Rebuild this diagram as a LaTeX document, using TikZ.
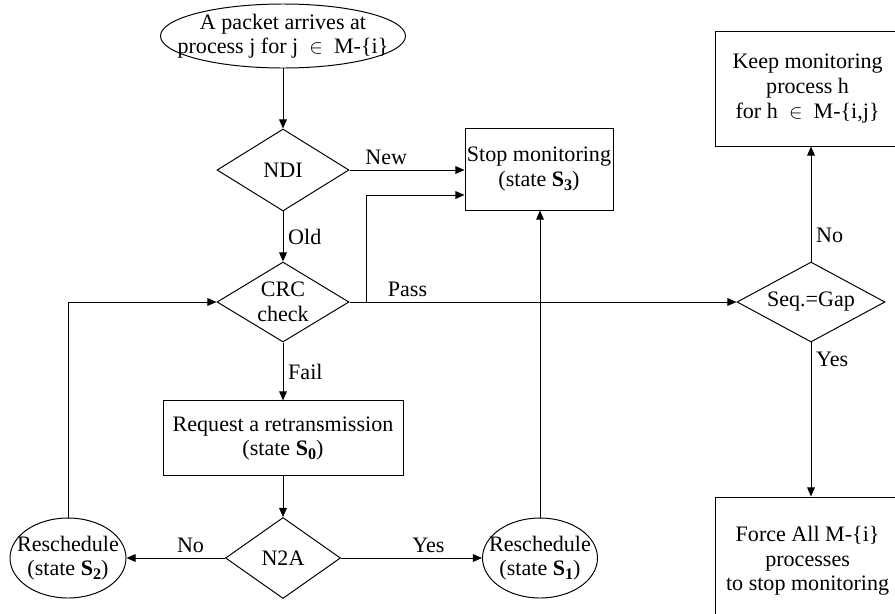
\documentclass[tikz,border=0pt]{standalone}
\usepackage{fontspec}
\setmainfont{Liberation Serif}
\usetikzlibrary{shapes.geometric}
\usetikzlibrary{positioning}
\usetikzlibrary{arrows.meta}
\newcommand{\stS}[1]{\textbf{S}\raisebox{-0.4ex}{\fontsize{11.5}{11.5}\selectfont\textbf{#1}}}

\begin{document}
\begin{tikzpicture}[
    font=\fontsize{15.7}{17.5}\selectfont,
    line width=0.7pt,
    box/.style={draw, rectangle, align=center, inner sep=0pt},
    decision/.style={draw, diamond, align=center, inner sep=0pt, shape aspect=1.6},
    oval/.style={draw, ellipse, align=center, inner xsep=-20pt, inner ysep=-5pt},
    flow/.style={-{Triangle[length=6.5pt,width=5.5pt]}}
]
            \path[use as bounding box] (0,0) rectangle (22.375,-15.325);
            \clip (0,0) rectangle (22.375,-15.325);

            \node[oval, minimum width=6.125cm, minimum height=1.6cm] (arrive) at (7.075,-0.9) {A packet arrives at\\process j for j $\;\in\;$ M-\{i\}};
            \node[decision, minimum width=3.3cm, minimum height=2.05cm] (ndi) at (7.075,-4.25) {NDI};
            \node[decision, minimum width=3.3cm, minimum height=2cm] (crc) at (7.075,-7.55) {CRC\\check};
            \node[box, minimum width=6cm, minimum height=1.875cm] (request) at (7.075,-10.96) {Request a retransmission\\(state \stS{0})};
            \node[decision, minimum width=2.875cm, minimum height=2.025cm] (n2a) at (7.075,-13.95) {N2A};
            \node[oval, minimum width=2.9cm, minimum height=2cm] (resched2) at (1.7,-13.95) {Reschedule\\(state \stS{2})};
            \node[oval, minimum width=2.875cm, minimum height=2cm] (resched1) at (13.5,-13.95) {Reschedule\\(state \stS{1})};
            \node[box, minimum width=3.7cm, minimum height=2.05cm] (stop) at (13.475,-4.225) {Stop monitoring\\(state \stS{3})};
            \node[decision, minimum width=3.7cm, minimum height=2cm] (seq) at (20.275,-7.55) {Seq.=Gap};
            \node[box, minimum width=4.625cm, minimum height=2.875cm] (keep) at (20.19,-2.2125) {Keep monitoring\\process h\\for h $\;\in\;$ M-\{i,j\}};
            \node[box, minimum width=4.625cm, minimum height=3.2cm] (force) at (20.19,-14.025) {Force All M-\{i\}\\processes\\to stop monitoring};

            \coordinate (passsplit) at (9.15,-7.55);

            \draw[flow] (arrive) -- (ndi);
            \draw[flow] (ndi) -- node[above, pos=0.32] (lblnew) {New} (ndi -| stop.west);
            \draw[flow] (ndi) -- node[right, pos=0.5] (lblold) {Old} (crc);
            \draw[flow] (crc) -- node[above, pos=0.15] (lblpass) {Pass} (seq);
            \draw[flow] (passsplit) |- ([yshift=-0.65cm]stop.west);
            \draw[flow] (crc) -- node[right, pos=0.5] (lblfail) {Fail} (request);
            \draw[flow] (request) -- (n2a);
            \draw[flow] (n2a) -- node[above, pos=0.35] (lblno) {No} (resched2);
            \draw[flow] (n2a) -- node[above, pos=0.62] (lblyes) {Yes} (resched1);
            \draw[flow] (resched2.north) |- (crc.west);
            \draw[flow] (resched1.north) -- (resched1.north |- stop.south);
            \draw[flow] (seq.north) -- node[right, pos=0.23] (lblkeep) {No} (seq.north |- keep.south);
            \draw[flow] (seq.south) -- node[right, pos=0.11] (lblforce) {Yes} (seq.south |- force.north);
        \end{tikzpicture}
\end{document}
